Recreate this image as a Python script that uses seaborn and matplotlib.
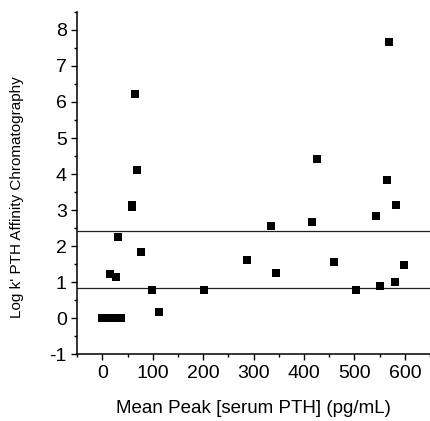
import matplotlib
matplotlib.use("Agg")
import matplotlib.pyplot as plt
from matplotlib.ticker import MultipleLocator
import pandas as pd
import seaborn as sns

# serum PTH (pg/mL) vs log k' from affinity chromatography
pth = [0, 6, 12, 18, 24, 30, 36,
       16, 28, 32, 58, 58, 64, 68, 76, 99, 113, 202,
       287, 334, 344, 415, 425, 460, 502, 543, 551, 565, 569, 581, 583, 599]
log_k = [0, 0, 0, 0, 0, 0, 0,
         1.22, 1.14, 2.25, 3.08, 3.14, 6.22, 4.11, 1.83, 0.78, 0.17, 0.78,
         1.61, 2.56, 1.25, 2.67, 4.42, 1.56, 0.78, 2.83, 0.89, 3.83, 7.67, 1.0, 3.15, 1.47]
ref_lines = [2.41, 0.83]

df = pd.DataFrame({"pth": pth, "log_k": log_k})

sns.set_style("ticks")
plt.rcParams["font.family"] = ["Liberation Sans", "DejaVu Sans"]
plt.rcParams["axes.unicode_minus"] = False
plt.rcParams["text.color"] = "black"
plt.rcParams["axes.labelcolor"] = "black"

fig = plt.figure(figsize=(4.31, 4.21), dpi=100)
ax = fig.add_axes([0.179, 0.158, 0.819, 0.814])

for y in ref_lines:
    ax.axhline(y, color="#222222", linewidth=0.9, zorder=1)

sns.scatterplot(data=df, x="pth", y="log_k", marker="s", s=26, color="black",
                edgecolor="black", linewidth=0, ax=ax, zorder=3)

ax.set_xlim(-50, 650)
ax.set_ylim(-1, 8.5)
ax.xaxis.set_major_locator(MultipleLocator(100))
ax.xaxis.set_minor_locator(MultipleLocator(50))
ax.yaxis.set_major_locator(MultipleLocator(1))
ax.yaxis.set_minor_locator(MultipleLocator(0.5))
ax.set_xticks(range(0, 601, 100))
ax.tick_params(axis="both", which="major", direction="out", length=4, width=1,
               labelsize=14, colors="black")
ax.tick_params(axis="both", which="minor", direction="out", length=2, width=1,
               colors="black")
sns.despine(ax=ax)
for side in ("left", "bottom"):
    ax.spines[side].set_linewidth(1.1)
    ax.spines[side].set_color("black")

ax.set_xlabel("Mean Peak [serum PTH] (pg/mL)", fontsize=13.5, labelpad=13,
              color="black")
ax.set_ylabel("Log k' PTH Affinity Chromatography", fontsize=11, color="black")
ax.yaxis.set_label_coords(-0.15, 0.46)

fig.savefig("out.png", dpi=100)
